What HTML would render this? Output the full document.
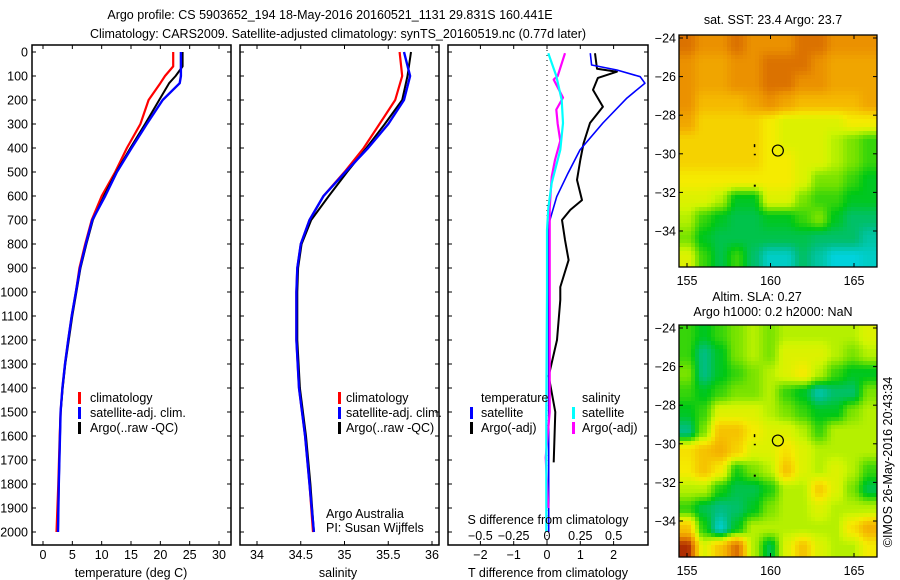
<!DOCTYPE html>
<html><head><meta charset="utf-8">
<style>
html,body{margin:0;padding:0;background:#fff;}
svg{display:block;font-family:"Liberation Sans",sans-serif;}
text{fill:#000;font-size:12.5px;}
</style></head>
<body>
<svg id="fig" width="900" height="580" viewBox="0 0 900 580">
<text x="330" y="19" text-anchor="middle" font-size="13.5">Argo profile: CS 5903652_194 18-May-2016 20160521_1131 29.831S 160.441E</text>
<text x="338" y="38" text-anchor="middle" font-size="13.5">Climatology: CARS2009. Satellite-adjusted climatology: synTS_20160519.nc (0.77d later)</text>
<g id="g"></g>
<text transform="translate(892,462) rotate(-90)" text-anchor="middle" font-size="12.5">©IMOS 26-May-2016 20:43:34</text>
</svg>
<script>
// ---- data ----
const tDepth = [0,60,100,130,200,300,400,500,600,700,800,900,1000,1100,1200,1300,1400,1500,1600,1800,2000];
const tClim  = [22.2,22.2,20.8,20.0,18.0,16.6,14.3,12.3,10.0,8.3,7.2,6.2,5.6,4.9,4.3,3.75,3.3,3.0,2.85,2.6,2.3];
const tSat   = [23.5,23.5,23.5,23.3,20.4,17.7,15.1,12.6,10.6,8.4,7.3,6.3,5.6,4.9,4.3,3.75,3.3,3.0,2.9,2.7,2.55];
const tArgo  = [23.8,23.8,22.6,21.5,19.8,17.4,14.9,12.5,10.4,8.5,7.4,6.4,5.7,5.0,4.4,3.8,3.35,3.0,2.9,2.7,2.55];
const sDepth = [0,100,200,300,400,500,600,700,800,900,1000,1200,1400,1600,1800,2000];
const sClim  = [35.63,35.66,35.58,35.40,35.22,35.00,34.76,34.60,34.50,34.46,34.45,34.45,34.48,34.55,34.60,34.64];
const sSat   = [35.68,35.75,35.68,35.50,35.27,35.01,34.76,34.60,34.50,34.46,34.45,34.45,34.48,34.55,34.60,34.65];
const sArgo  = [35.76,35.72,35.66,35.46,35.25,35.03,34.82,34.62,34.51,34.47,34.46,34.46,34.49,34.56,34.61,34.65];
const tSatDiffDepth = [5,54,75,103,130,192,296,408,505,603,728,900,1200,1500,1800,2000];
const tSatDiff      = [1.3,1.34,2.1,2.8,2.94,2.4,1.68,0.99,0.63,0.29,0.03,0.05,0.05,0.05,0.05,0.05];
const tArgoDiffDepth = [5,70,82,108,158,228,296,380,450,533,617,658,700,783,867,979,1033,1200,1350,1500,1710];
const tArgoDiff      = [1.44,1.5,2.1,1.53,1.38,1.68,1.29,1.1,1.0,0.9,1.05,0.7,0.45,0.54,0.65,0.4,0.4,0.3,0.05,0.25,0.2];
const sSatDiffDepth = [5,100,200,296,408,546,650,742,1000,1500,2000];
const sSatDiff      = [0.01,0.07,0.11,0.12,0.1,0.035,0.01,0,0,-0.005,-0.005];
const sArgoDiffDepth = [5,100,115,190,240,300,370,450,520,650,1000,1500,1690,1900];
const sArgoDiff      = [0.135,0.08,0.05,0.12,0.07,0.08,0.1,0.06,0.035,0.02,0.02,0.02,-0.01,0.01];
const depthTicks = [0,100,200,300,400,500,600,700,800,900,1000,1100,1200,1300,1400,1500,1600,1700,1800,1900,2000];
const tTicks = [0,5,10,15,20,25,30];
const sTicks = [34,34.5,35,35.5,36];
const dTTicks = [-2,-1,0,1,2];
const dSTicks = [-0.5,-0.25,0,0.25,0.5];
const dSTickLabels = ["\u22120.5","\u22120.25","0","0.25","0.5"];
const lonTicks = [155,160,165];
const latTicks = [-24,-26,-28,-30,-32,-34];
const sstGrid = [
[.85,.8,.8,.85,.8,.8,.8,.85,.85,.8,.8,.8],
[.8,.75,.75,.8,.8,.85,.85,.85,.8,.75,.75,.75],
[.8,.75,.75,.8,.8,.85,.85,.8,.8,.75,.75,.75],
[.8,.7,.7,.7,.75,.8,.75,.7,.7,.7,.7,.75],
[.75,.65,.65,.65,.65,.6,.55,.55,.55,.55,.6,.6],
[.65,.65,.65,.65,.65,.6,.55,.55,.55,.5,.45,.4],
[.65,.65,.65,.65,.65,.6,.6,.55,.55,.5,.45,.4],
[.6,.6,.6,.6,.6,.6,.6,.55,.45,.45,.4,.35],
[.55,.55,.5,.35,.35,.55,.55,.45,.4,.4,.35,.35],
[.5,.4,.35,.32,.32,.35,.35,.4,.45,.35,.3,.3],
[.45,.35,.32,.32,.32,.32,.32,.32,.3,.3,.3,.25],
[.55,.4,.32,.4,.3,.22,.22,.3,.25,.2,.2,.22]];
const slaGrid = [
[.4,.35,.4,.45,.5,.45,.5,.5,.5,.5,.5,.55],
[.4,.28,.35,.45,.5,.45,.55,.55,.55,.5,.45,.5],
[.45,.28,.35,.4,.45,.5,.55,.6,.5,.4,.35,.35],
[.4,.35,.4,.45,.45,.5,.4,.35,.25,.3,.3,.45],
[.35,.4,.55,.55,.55,.5,.45,.4,.35,.35,.45,.5],
[.28,.45,.68,.68,.6,.55,.55,.5,.4,.5,.5,.5],
[.62,.68,.72,.65,.55,.55,.62,.55,.5,.5,.5,.5],
[.6,.68,.6,.38,.45,.5,.68,.55,.5,.55,.5,.4],
[.5,.5,.38,.32,.32,.38,.5,.5,.66,.55,.45,.32],
[.4,.32,.28,.3,.35,.45,.5,.5,.55,.5,.5,.5],
[.68,.38,.22,.35,.5,.5,.5,.5,.5,.5,.62,.72],
[.95,.55,.68,.85,.5,.32,.55,.68,.55,.5,.5,.6]];
const argoLon = 160.441, argoLat = -29.831;

// ---- helpers ----
const NS="http://www.w3.org/2000/svg";
const G=document.getElementById('g');
function el(tag,attrs,parent){const e=document.createElementNS(NS,tag);for(const k in attrs)e.setAttribute(k,attrs[k]);(parent||G).appendChild(e);return e;}
const top0=52, pxm=0.24, boxTop=45, boxBot=545;
const yD=d=>top0+d*pxm;
const xT=v=>43+(v-0)*5.867;
const xS=v=>257+(v-34)*87.5;
const xDT=v=>547+v*33.3;
const xDS=v=>547+v*133.3;

function box(x0,x1,name){
  const r=el('rect',{x:x0,y:boxTop,width:x1-x0,height:boxBot-boxTop,fill:'none',stroke:'#000','stroke-width':1.5});
  
  
}
function depthAxis(x0,x1,labels){
  depthTicks.forEach(d=>{
    const y=yD(d);
    el('line',{x1:x0,y1:y,x2:x0+4,y2:y,stroke:'#000'});
    el('line',{x1:x1-4,y1:y,x2:x1,y2:y,stroke:'#000'});
    if(labels){const t=el('text',{x:x0-4,y:y+4.5,'text-anchor':'end'});t.textContent=d;
      
      }
  });
}
function xAxis(ticks,fx){
  ticks.forEach((v,i)=>{
    const x=fx(v);
    el('line',{x1:x,y1:boxBot,x2:x,y2:boxBot-4,stroke:'#000'});
    el('line',{x1:x,y1:boxTop,x2:x,y2:boxTop+4,stroke:'#000'});
    const t=el('text',{x:x,y:559,'text-anchor':'middle'});t.textContent=String(v).replace('-','\u2212');
    
    
  });
}
function line(vals,depths,fx,color,w,name){
  const pts=vals.map((v,i)=>fx(v).toFixed(1)+','+yD(depths[i]).toFixed(1)).join(' ');
  const p=el('polyline',{points:pts,fill:'none',stroke:color,'stroke-width':w,'stroke-linejoin':'round'});
  
  
}
function txt(x,y,s,name,anchor){const t=el('text',{x:x,y:y,'text-anchor':anchor||'start'});t.textContent=s;
  
  return t;}
function bar(x,y,c){el('rect',{x:x,y:y-10,width:3,height:12,fill:c});}

// ---- panel 1: temperature ----
box(32,231,'temperature-panel');
depthAxis(32,231,true);
xAxis(tTicks,xT);
line(tClim,tDepth,xT,'#ff0000',2.2,'temp-climatology-line');
line(tArgo,tDepth,xT,'#000000',2,'temp-argo-line');
line(tSat,tDepth,xT,'#0000ff',2.4,'temp-satellite-line');
txt(131,577,'temperature (deg C)','temperature-axis-title','middle');
bar(78,402,'#f00');txt(90,402,'climatology','legend-climatology');
bar(78,417,'#00f');txt(90,417,'satellite-adj. clim.','legend-satellite');
bar(78,432,'#000');txt(90,432,'Argo(..raw -QC)','legend-argo');

// ---- panel 2: salinity ----
box(240,439,'salinity-panel');
depthAxis(240,439,false);
xAxis(sTicks,xS);
line(sClim,sDepth,xS,'#ff0000',2.2,'sal-climatology-line');
line(sArgo,sDepth,xS,'#000000',2,'sal-argo-line');
line(sSat,sDepth,xS,'#0000ff',2.4,'sal-satellite-line');
txt(338,577,'salinity','salinity-axis-title','middle');
bar(338,402,'#f00');txt(346,402,'climatology','legend-climatology-2');
bar(338,417,'#00f');txt(346,417,'satellite-adj. clim.','legend-satellite-2');
bar(338,432,'#000');txt(346,432,'Argo(..raw -QC)','legend-argo-2');
txt(326,518,'Argo Australia','argo-australia-note');
txt(326,532,'PI: Susan Wijffels','pi-note');

// ---- panel 3: differences ----
box(448,648,'difference-panel');
depthAxis(448,648,false);
xAxis(dTTicks,xDT);
el('line',{x1:547,y1:boxTop,x2:547,y2:boxBot,stroke:'#000','stroke-dasharray':'1,4'});
line(tArgoDiff,tArgoDiffDepth,xDT,'#000',2,'temp-argo-diff-line');
line(tSatDiff,tSatDiffDepth,xDT,'#0000ff',1.6,'temp-satellite-diff-line');
line(sArgoDiff,sArgoDiffDepth,xDS,'#ff00ff',2.2,'sal-argo-diff-line');
line(sSatDiff,sSatDiffDepth,xDS,'#00ffff',2.2,'sal-satellite-diff-line');
dSTicks.forEach((v,i)=>{txt(xDS(v),540,dSTickLabels[i],'s-diff-tick-label','middle');});
txt(548,524,'S difference from climatology','s-diff-axis-title','middle');
txt(548,577,'T difference from climatology','t-diff-axis-title','middle');
txt(481,402,'temperature','legend-temperature');
bar(470,417,'#00f');txt(481,417,'satellite','legend-t-satellite');
bar(470,432,'#000');txt(481,432,'Argo(-adj)','legend-t-argo');
txt(582,402,'salinity','legend-salinity');
bar(572,417,'#0ff');txt(582,417,'satellite','legend-s-satellite');
bar(572,432,'#f0f');txt(582,432,'Argo(-adj)','legend-s-argo');

// ---- maps ----
const stops=[[0,[0,200,235]],[0.2,[0,210,220]],[0.28,[0,190,130]],[0.36,[0,200,20]],[0.44,[110,225,0]],[0.52,[205,245,0]],[0.6,[245,235,0]],[0.7,[245,185,0]],[0.8,[235,145,0]],[0.88,[210,95,0]],[1,[150,10,0]]];
function cmap(v){for(let i=1;i<stops.length;i++){if(v<=stops[i][0]){const a=stops[i-1],b=stops[i],f=(v-a[0])/(b[0]-a[0]);
  return 'rgb('+a[1].map((c,k)=>Math.round(c+(b[1][k]-c)*f)).join(',')+')';}}return 'rgb(150,10,0)';}
function sample(grid,gx,gy){
  const n=grid.length,m=grid[0].length;
  gx=Math.max(0,Math.min(m-1,gx));gy=Math.max(0,Math.min(n-1,gy));
  const x0=Math.floor(gx),y0=Math.floor(gy),x1=Math.min(m-1,x0+1),y1=Math.min(n-1,y0+1);
  const fx=gx-x0,fy=gy-y0;
  const s=t=>t*t*(3-2*t);
  const a=s(fx),b=s(fy);
  return (grid[y0][x0]*(1-a)+grid[y0][x1]*a)*(1-b)+(grid[y1][x0]*(1-a)+grid[y1][x1]*a)*b;
}
function map(grid,yTop,name){
  const lonX=l=>687+(l-155)*16.7, latY=la=>yTop+3+(-la-24)*19.3;
  const g=el('g',{});
  
  
  const cw=198/12,ch=232/12, px=4;
  for(let y=0;y<232;y+=px){for(let x=0;x<198;x+=px){
    const gx=(x+px/2)/cw-0.5, gy=(y+px/2)/ch-0.5;
    const w=Math.min(px,198-x), h=Math.min(px,232-y);
    el('rect',{x:679+x,y:yTop+y,width:w+0.3,height:h+0.3,fill:cmap(sample(grid,gx,gy))},g);
  }}
  el('rect',{x:679,y:yTop,width:198,height:232,fill:'none',stroke:'#000','stroke-width':1.3});
  lonTicks.forEach(l=>{const x=lonX(l);el('line',{x1:x,y1:yTop+232,x2:x,y2:yTop+228,stroke:'#000'});el('line',{x1:x,y1:yTop,x2:x,y2:yTop+4,stroke:'#000'});
    txt(x,yTop+250,String(l),'lon-tick-label','middle');});
  latTicks.forEach(la=>{const y=latY(la);el('line',{x1:679,y1:y,x2:683,y2:y,stroke:'#000'});el('line',{x1:873,y1:y,x2:877,y2:y,stroke:'#000'});
    txt(676,y+4.5,String(la).replace('-','\u2212'),'lat-tick-label','end');});
  const c=el('circle',{cx:lonX(argoLon),cy:latY(argoLat),r:5.5,fill:'none',stroke:'#000','stroke-width':1.2});
  
  
  el('rect',{x:lonX(159),y:latY(-29.5),width:1.5,height:3,fill:'#000'});
  el('rect',{x:lonX(159),y:latY(-30),width:2,height:1.5,fill:'#000'});
  el('rect',{x:lonX(159),y:latY(-31.6),width:2,height:2,fill:'#000'});
}
map(sstGrid,35,'sst-map');
map(slaGrid,325,'sla-map');
txt(773,24,'sat. SST: 23.4  Argo: 23.7','sst-map-title','middle');
txt(757,301,'Altim. SLA: 0.27','sla-map-title-1','middle');
txt(773,316,'Argo h1000: 0.2 h2000: NaN','sla-map-title-2','middle');
</script>
</body></html>
